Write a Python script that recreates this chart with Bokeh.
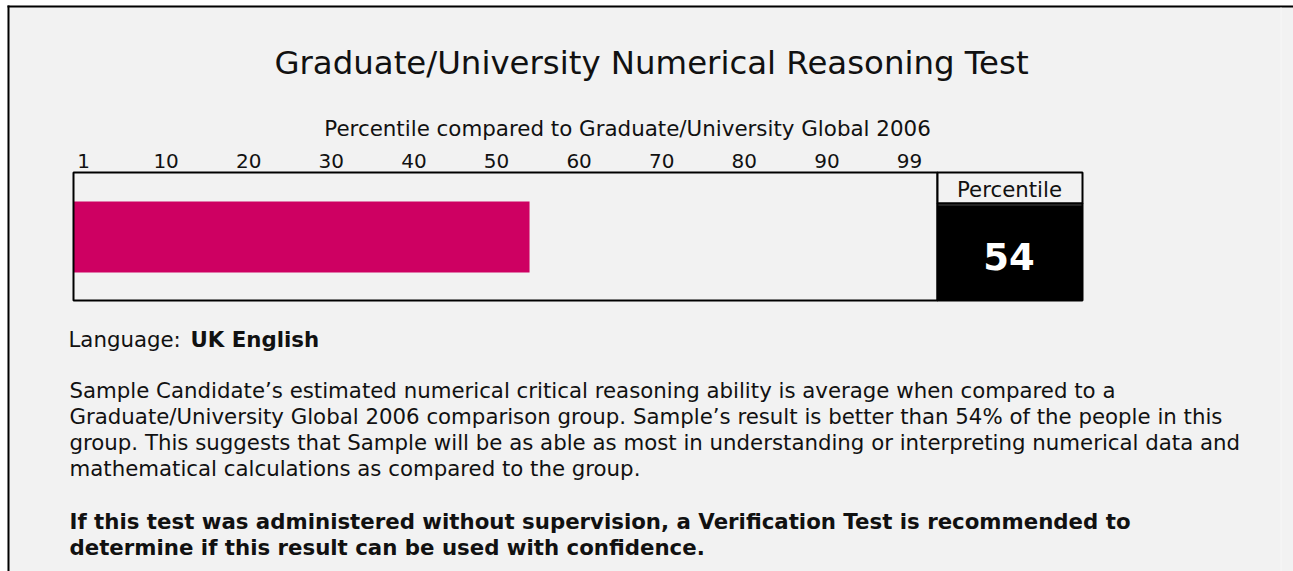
from bokeh.plotting import figure
from bokeh.models import Range1d
from bokeh.core.properties import value
from bokeh.embed import file_html
from bokeh.resources import INLINE

# ---------------- data ----------------
title = "Graduate/University Numerical Reasoning Test"
subtitle = "Percentile compared to Graduate/University Global 2006"
tick_labels = ["1", "10", "20", "30", "40", "50", "60", "70", "80", "90", "99"]
tick_positions = [0, 10, 20, 30, 40, 50, 60, 70, 80, 90, 100]
score = [54]
score_label = "Percentile"
language_label = "Language:"
language = "UK English"
paragraph = [
    "Sample Candidate\u2019s estimated numerical critical reasoning ability is average when compared to a",
    "Graduate/University Global 2006 comparison group. Sample\u2019s result is better than 54% of the people in this",
    "group. This suggests that Sample will be as able as most in understanding or interpreting numerical data and",
    "mathematical calculations as compared to the group.",
]
warning = [
    "If this test was administered without supervision, a Verification Test is recommended to",
    "determine if this result can be used with confidence.",
]

# ---------------- layout ----------------
W, H = 1293, 571
BG = "#f2f2f2"
FONT = value("DejaVu Sans")
TXT = "#111111"
BAR = "#ce0062"
BODY = "21.3px"

# percentile scale: x = 83 + 8.26 * p
PX0, PXS = 83.0, 8.26
pct_start = (0 - PX0) / PXS
pct_end = (W - PX0) / PXS
box_left = (73 - PX0) / PXS     # chart box left edge, in percentile units
box_right = (937 - PX0) / PXS   # chart box right edge

p = figure(width=W, height=H, x_range=Range1d(0, W), y_range=Range1d(H, 0),
           output_backend="svg", toolbar_location=None, min_border=0,
           background_fill_color="white", border_fill_color="white", outline_line_color=None)
p.axis.visible = False
p.grid.visible = False
p.extra_x_ranges = {"pct": Range1d(pct_start, pct_end)}

# panel background and frame (top and left edges)
p.quad(left=[7], right=[W], top=[5], bottom=[H], fill_color=BG, line_color=None)
p.quad(left=[7], right=[W], top=[5], bottom=[7], fill_color="black", line_color=None)
p.quad(left=[7], right=[9], top=[5], bottom=[H], fill_color="black", line_color=None)
p.segment(x0=[1280.5], y0=[7], x1=[1280.5], y1=[H], line_color="#f7f7f7", line_width=1)

# title & subtitle
p.text(x=[651], y=[62], text=[title], text_font=FONT, text_font_size="32.4px",
       text_align="center", text_baseline="alphabetic", text_color=TXT)
p.text(x=[627], y=[128], text=[subtitle], text_font=FONT, text_font_size="21.4px",
       text_align="center", text_baseline="alphabetic", text_color=TXT)

# tick labels
p.text(x=tick_positions, y=[160] * len(tick_positions), text=tick_labels, x_range_name="pct",
       text_font=FONT, text_font_size="20px", text_align="center",
       text_baseline="alphabetic", text_color=TXT)

# bar
p.hbar(y=[236.5], height=71, left=[box_left], right=score, x_range_name="pct",
       fill_color=BAR, line_color=None)

# chart box
p.quad(left=[box_left], right=[box_right], top=[172], bottom=[300], x_range_name="pct",
       fill_alpha=0, line_color="black", line_width=2)

# percentile box
p.quad(left=[937], right=[1082], top=[172], bottom=[203], fill_color=BG,
       line_color="black", line_width=2)
p.quad(left=[937], right=[1082], top=[203], bottom=[300], fill_color="black",
       line_color="black", line_width=2)
p.segment(x0=[938], y0=[204.5], x1=[1081], y1=[204.5], line_color="#444444", line_width=1)
p.text(x=[1009], y=[189], text=[score_label], text_font=FONT, text_font_size="21.3px",
       text_align="center", text_baseline="alphabetic", text_color=TXT)
p.text(x=[1008.5], y=[256], text=[str(score[0])], text_font=FONT, text_font_size="37px",
       text_font_style="bold", text_align="center", text_baseline="alphabetic",
       text_color="white")

# language line
p.text(x=[68], y=[339], text=[language_label], text_font=FONT, text_font_size=BODY,
       text_baseline="alphabetic", text_color=TXT)
p.text(x=[190], y=[339], text=[language], text_font=FONT, text_font_size=BODY,
       text_font_style="bold", text_baseline="alphabetic", text_color=TXT)

# paragraph
p.text(x=[69] * len(paragraph), y=[390 + 26 * i for i in range(len(paragraph))],
       text=paragraph, text_font=FONT, text_font_size=BODY,
       text_baseline="alphabetic", text_color=TXT)
p.text(x=[69] * len(warning), y=[521 + 26 * i for i in range(len(warning))],
       text=warning, text_font=FONT, text_font_size=BODY, text_font_style="bold",
       text_baseline="alphabetic", text_color=TXT)

open("out.html", "w").write(file_html(p, INLINE))
